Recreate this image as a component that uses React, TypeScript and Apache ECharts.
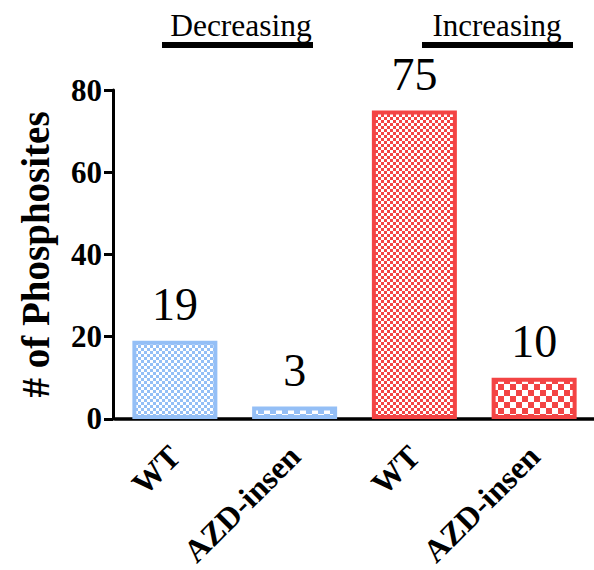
import React, { useEffect, useRef } from "react";
import * as echarts from "echarts";

const categories = ["WT", "AZD-insen", "WT", "AZD-insen"];
const values = [19, 3, 75, 10];
const groupNames = ["Decreasing", "Increasing"];
const yTicks = [0, 20, 40, 60, 80];

const BLUE = "#94bff6";
const RED = "#f34444";
const barColors = [BLUE, BLUE, RED, RED];
const cellSizes = [3, 6, 3, 6];

function makePattern(fg: string, cell: number) {
  const c = document.createElement("canvas");
  c.width = cell * 2;
  c.height = cell * 2;
  const ctx = c.getContext("2d")!;
  ctx.fillStyle = fg;
  ctx.fillRect(0, 0, cell * 2, cell * 2);
  ctx.fillStyle = "#ffffff";
  ctx.fillRect(0, 0, cell, cell);
  ctx.fillRect(cell, cell, cell, cell);
  return { image: c, repeat: "repeat", imageWidth: cell * 2, imageHeight: cell * 2 } as any;
}

export default function App() {
  const ref = useRef<HTMLDivElement>(null);
  useEffect(() => {
    const chart = echarts.init(ref.current!, null, { renderer: "svg" });
    const font = "Liberation Serif";
    const option: any = {
      animation: false,
      backgroundColor: "#ffffff",
      grid: { left: 115, top: 90, width: 492, bottom: 150, containLabel: false },
      xAxis: {
        type: "category",
        data: categories,
        axisLine: { lineStyle: { color: "#000", width: 3.5 } },
        axisTick: { alignWithLabel: true, length: 10, lineStyle: { color: "#000", width: 3 } },
        axisLabel: {
          rotate: 45,
          margin: 32,
          interval: 0,
          color: "#000",
          fontFamily: font,
          fontWeight: "bold",
          fontSize: 32,
        },
      },
      yAxis: {
        type: "value",
        min: yTicks[0],
        max: yTicks[yTicks.length - 1],
        interval: 20,
        offset: 2,
        name: "# of Phosphosites",
        nameLocation: "middle",
        nameGap: 58,
        nameTextStyle: { color: "#000", fontFamily: font, fontWeight: "bold", fontSize: 39 },
        splitLine: { show: false },
        axisLine: { show: true, lineStyle: { color: "#000", width: 3 } },
        axisTick: { show: true, length: 9, lineStyle: { color: "#000", width: 3 } },
        axisLabel: { margin: 11, color: "#000", fontFamily: font, fontWeight: "bold", fontSize: 31 },
      },
      series: [
        {
          type: "bar",
          barWidth: 85,
          data: values.map((v, i) => ({
            value: v,
            itemStyle: {
              color: makePattern(barColors[i], cellSizes[i]),
              borderColor: barColors[i],
              borderWidth: 4,
            },
          })),
          label: {
            show: true,
            position: "top",
            distance: 13,
            color: "#000",
            fontFamily: font,
            fontSize: 46,
          },
        },
      ],
      graphic: [
        { type: "text", x: 241, y: 25, style: { text: groupNames[0], font: `31.5px "${font}"`, fill: "#000", textAlign: "center", textVerticalAlign: "middle" } },
        { type: "rect", shape: { x: 162, y: 42, width: 151, height: 6 }, style: { fill: "#000" } },
        { type: "text", x: 497, y: 25, style: { text: groupNames[1], font: `31px "${font}"`, fill: "#000", textAlign: "center", textVerticalAlign: "middle" } },
        { type: "rect", shape: { x: 422, y: 42, width: 151, height: 6 }, style: { fill: "#000" } },
      ],
    };
    chart.setOption(option);
    return () => chart.dispose();
  }, []);
  return (
    <div
      ref={ref}
      style={{ position: "absolute", left: 0, top: 0, width: 594, height: 570 }}
    />
  );
}
